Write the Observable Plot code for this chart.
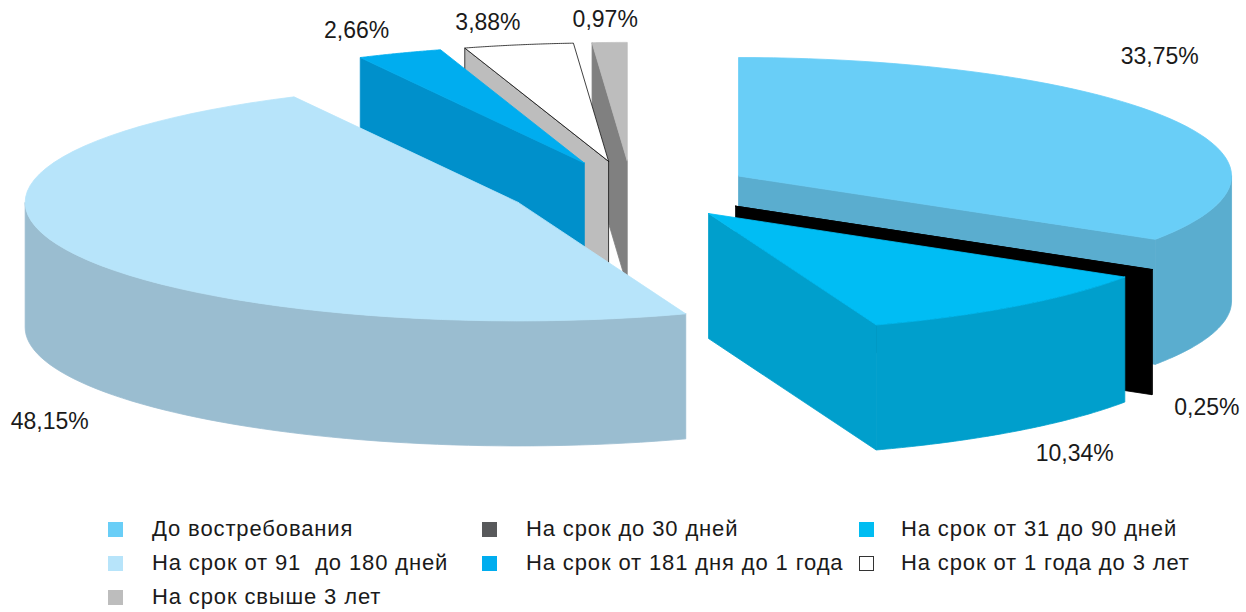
<!DOCTYPE html>
<html><head><meta charset="utf-8">
<script src="https://cdn.jsdelivr.net/npm/d3@7"></script>
<script src="https://cdn.jsdelivr.net/npm/@observablehq/plot@0.6"></script>
<style>
html,body{margin:0;padding:0;background:#fff}
#chart{width:1246px;overflow:hidden}
#chart svg{display:block;font-family:"Liberation Sans",sans-serif}
#legend{display:grid;grid-template-columns:374px 377px auto;grid-auto-rows:34px;margin:2px 0 0 108px;font:22px "Liberation Sans",sans-serif;letter-spacing:.87px;color:#1a1a1a}
.item{display:flex;align-items:center;white-space:pre}
.sw{width:15px;height:15px;margin-right:29px;box-sizing:border-box;flex:none}
.item:nth-child(3n) .sw{margin-right:27px}
</style></head><body>
<div id="chart"></div><div id="legend"></div>
<script>
// Data
const categories = ["До востребования","На срок до 30 дней","На срок от 31 до 90 дней","На срок от 91  до 180 дней","На срок от 181 дня до 1 года","На срок от 1 года до 3 лет","На срок свыше 3 лет"];
const shares = [33.75,0.25,10.34,48.15,2.66,3.88,0.97];
const shareLabels = ["33,75%","0,25%","10,34%","48,15%","2,66%","3,88%","0,97%"];
// Styles
const topColors  = ["#69CEF7","#000000","#00BDF4","#B7E4FA","#00ADEF","#FFFFFF","#BDBDBD"];
const sideColors = ["#5AADCF","#000000","#009FCC","#9ABDD0","#0090CB","#BDBDBD","#808080"];
const swatchColors = ["#69CEF7","#58595B","#00BDF2","#B7E4FA","#00ADEF","#FFFFFF","#BDBDBD"];
const outlined = [false,false,false,false,false,true,false];
const drawOrder = [0,1,2,6,5,4,3];
const labelNudge = [[-9,-61],[53,14],[56,23],[-17,47],[-41,-23],[-31,-22],[-7,-22.5]];
const edgeTrimDeg = [0.8,0,0.5,0,0.5,-0.6,0];
const explode = 0.25, depth = 1.055;

// Geometry in unit-pie coordinates, all derived from the shares
const total = d3.sum(shares);
const rad = p => p / total * 2 * Math.PI;
const trim = i => i<0 ? 0 : edgeTrimDeg[i]*Math.PI/180;
let acc = 0;
const slices = shares.map((s,i)=>{
  const a0 = rad(acc); acc += s; const a1 = rad(acc); const m = (a0+a1)/2;
  return {i,a0:a0+trim(i-1),a1:a1+trim(i),m,cx:explode*Math.sin(m),cy:explode*Math.cos(m)};
});
const on = (s,a,r=1)=>[s.cx+r*Math.sin(a), s.cy+r*Math.cos(a)];
const polys = [];
const add = (id,pts,fill,stroke)=>{
  [...pts,pts[0]].forEach(([x,y])=>polys.push({id,x,y,fill,stroke}));
};
drawOrder.forEach(k=>{
  const s = slices[k];
  const line = outlined[k] ? "#111111" : sideColors[k];
  const tip = [s.cx,s.cy];
  const face = a=>{const o=on(s,a);return [tip,o,[o[0],o[1]-depth],[tip[0],tip[1]-depth]];};
  if (Math.sin(s.a1)>0) add(`f1${k}`,face(s.a1),sideColors[k],line);
  if (Math.sin(s.a0)<0) add(`f0${k}`,face(s.a0),sideColors[k],line);
  const lo=Math.max(s.a0,Math.PI/2), hi=Math.min(s.a1,3*Math.PI/2);
  if (hi>lo){
    const as=d3.range(0,61).map(j=>lo+(hi-lo)*j/60);
    add(`r${k}`,[...as.map(a=>on(s,a)),...as.slice().reverse().map(a=>{const o=on(s,a);return [o[0],o[1]-depth];})],sideColors[k],sideColors[k]);
  }
  const as=d3.range(0,61).map(j=>s.a0+(s.a1-s.a0)*j/60);
  add(`t${k}`,[tip,...as.map(a=>on(s,a))],topColors[k],outlined[k]?"#111111":topColors[k]);
});
const labelMarks = slices.map(s=>{
  const o = on(s,s.m), front = Math.cos(s.m)<0;
  return Plot.text([shareLabels[s.i]],{x:()=>o[0],y:()=>front?o[1]-depth:o[1],text:d=>d,
    dx:labelNudge[s.i][0],dy:labelNudge[s.i][1],fontSize:23,fill:"#1a1a1a",textAnchor:"middle",
    lineAnchor:"middle",style:{letterSpacing:"1.4px"}});
});
const chart = Plot.plot({
  width:1246,height:510,margin:0,
  x:{domain:[-1,1],range:[137.5,1123.5],axis:null},
  y:{domain:[-1,1],range:[308.5,71.5],axis:null},
  marks:[
    Plot.line(polys,{x:"x",y:"y",z:"id",fill:"fill",stroke:"stroke",strokeWidth:d=>0.8,curve:"linear",strokeLinejoin:"miter"}),
    ...labelMarks
  ]
});
document.getElementById("chart").append(chart);
const leg=document.getElementById("legend");
categories.forEach((c,i)=>{
  const it=document.createElement("div");it.className="item";
  const sw=document.createElement("span");sw.className="sw";sw.style.background=swatchColors[i];
  if(outlined[i])sw.style.border="1px solid #333";
  it.append(sw,document.createTextNode(c));leg.append(it);
});
</script></body></html>
